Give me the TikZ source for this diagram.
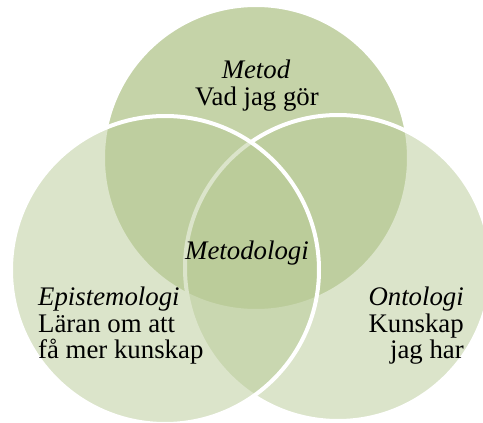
\documentclass[tikz,border=0pt]{standalone}
\usepackage{fontspec}
\setmainfont{Liberation Serif}
\definecolor{topgreen}{RGB}{197,211,168}
\definecolor{sidegreen}{RGB}{185,203,151}
\tikzset{
  topcirc/.style={fill=topgreen, draw=white, line width=4pt},
  sidecirc/.style={fill=sidegreen, fill opacity=0.5, draw=white, draw opacity=1, line width=4pt},
  lbl/.style={inner sep=0pt, font=\fontsize{26.8}{27}\selectfont},
}
\begin{document}
\begin{tikzpicture}[x=1pt,y=-1pt]
\useasboundingbox (0,0) rectangle (483,423);
\clip (0,0) rectangle (483,423);
\coordinate (ctop) at (256,158);
\coordinate (cright) at (338,268);
\coordinate (cleft) at (165,270);
\fill[white] (0,0) rectangle (483,423);
\path[topcirc] (ctop) circle[radius=153];
\path[sidecirc] (cright) circle[radius=153];
\path[sidecirc] (cleft) circle[radius=154];
% labels
\node[lbl, anchor=base] (met1) at (256,78) {\itshape Metod};
\node[lbl, anchor=base] (met2) at (257,105) {Vad jag gör};
\node[lbl, anchor=base] (metod) at (247,259) {\itshape Metodologi};
\node[lbl, anchor=base west] (epi1) at (38,305) {\itshape Epistemologi};
\node[lbl, anchor=base west] (epi2) at (38,332) {Läran om att};
\node[lbl, anchor=base west] (epi3) at (38,358) {få mer kunskap};
\node[lbl, anchor=base east] (ont1) at (464,305) {\itshape Ontologi};
\node[lbl, anchor=base east] (ont2) at (464,332) {Kunskap};
\node[lbl, anchor=base east] (ont3) at (464,358) {jag har};
\end{tikzpicture}
\end{document}
